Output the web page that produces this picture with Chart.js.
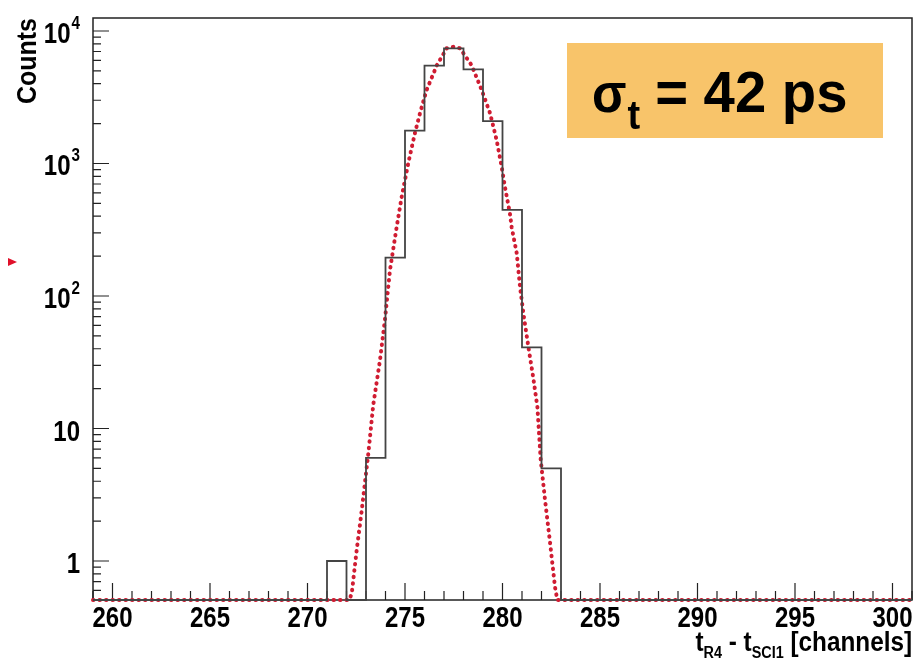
<!DOCTYPE html>
<html>
<head>
<meta charset="utf-8">
<script src="https://cdn.jsdelivr.net/npm/chart.js@4.4.0/dist/chart.umd.min.js"></script>
<style>
  body { margin: 0; background: #fff; }
  #wrap { width: 919px; height: 670px; }
</style>
</head>
<body>
<div id="wrap"><canvas id="hist" width="919" height="670"></canvas></div>
<script>
// histogram: lower bin edge (channels) and counts, one channel per bin
const binLow = [259, 260, 261, 262, 263, 264, 265, 266, 267, 268, 269, 270, 271, 272,
                273, 274, 275, 276, 277, 278, 279, 280, 281, 282, 283, 284, 285, 286,
                287, 288, 289, 290, 291, 292, 293, 294, 295, 296, 297, 298, 299, 300];
const counts = [0, 0, 0, 0, 0, 0, 0, 0, 0, 0, 0, 0, 1, 0,
                6, 195, 1770, 5470, 7400, 5140, 2090, 446, 41, 5, 0, 0, 0, 0,
                0, 0, 0, 0, 0, 0, 0, 0, 0, 0, 0, 0, 0, 0];
const binWidth = 1;

// gaussian fit curve (0 = below the axis floor)
const fitX = [259, 272.14, 272.27, 272.52, 272.78, 273.12, 273.37, 273.72, 273.97, 274.23,
              274.57, 274.83, 275.17, 275.51, 275.77, 276.11, 276.63, 277.14, 277.5, 277.82,
              278.42, 278.93, 279.36, 279.7, 279.96, 280.13, 280.38, 280.47, 280.73, 280.9,
              281.07, 281.33, 281.58, 281.79, 281.96, 282.18, 282.44, 282.69, 282.81, 301];
const fitY = [0, 0, 0.57, 1.2, 2.4, 6.5, 15, 33, 66, 157,
              330, 560, 1010, 1700, 2400, 3590, 5500, 7400, 7600, 7400,
              5500, 3590, 2400, 1500, 940, 660, 420, 330, 210, 117,
              74, 41, 24, 14.5, 5.8, 2.9, 1.37, 0.64, 0, 0];

// axes
const xMin = 259, xMax = 301;
const yMin = 0.508, yMax = 12530;
const xTickValues = [260, 265, 270, 275, 280, 285, 290, 295, 300];
const xTickLabels = ['260', '265', '270', '275', '280', '285', '290', '295', '300'];
const yTickValues = [1, 10, 100, 1000, 10000];
const yTickLabels = [['1', ''], ['10', ''], ['10', '2'], ['10', '3'], ['10', '4']];

const FONT = '"Liberation Sans", Arial, Helvetica, sans-serif';
const SQ = 0.8; // the original figure is narrow-looking, squeeze the axis text

const histPoints = [];
binLow.forEach((lo, i) => {
    const v = counts[i] > 0 ? counts[i] : yMin;
    histPoints.push({ x: lo, y: v });
    histPoints.push({ x: lo + binWidth, y: v });
});
const fitPoints = fitX.map((x, i) => ({ x: x, y: fitY[i] > 0 ? fitY[i] : yMin }));

// draws text squeezed horizontally, x is the left edge
function squeezed(ctx, text, x, y, size, sq) {
    ctx.save();
    ctx.font = 'bold ' + size + 'px ' + FONT;
    ctx.translate(x, y);
    ctx.scale(sq, 1);
    ctx.textAlign = 'left';
    ctx.fillText(text, 0, 0);
    ctx.restore();
}
function squeezedWidth(ctx, text, size, sq) {
    ctx.font = 'bold ' + size + 'px ' + FONT;
    return ctx.measureText(text).width * sq;
}

// ROOT-like frame, inward ticks, labels and the sigma box
const rootDecor = {
    id: 'rootDecor',
    beforeDatasetsDraw(chart) {
        const { ctx, chartArea: a, scales: { x, y } } = chart;
        ctx.save();

        // frame
        ctx.strokeStyle = '#222';
        ctx.lineWidth = 1.5;
        ctx.strokeRect(a.left, a.top, a.right - a.left, a.bottom - a.top);

        // x ticks, every channel, long ones every 5
        ctx.lineWidth = 1.2;
        ctx.beginPath();
        for (let v = xMin; v <= xMax; v++) {
            const px = x.getPixelForValue(v);
            const len = v % 5 === 0 ? 17 : 9;
            ctx.moveTo(px, a.bottom);
            ctx.lineTo(px, a.bottom - len);
        }
        // y ticks on the log axis
        for (let e = -1; e <= 4; e++) {
            for (let m = 1; m <= 9; m++) {
                const v = m * Math.pow(10, e);
                if (v < yMin || v > yMax) continue;
                const py = y.getPixelForValue(v);
                const len = m === 1 ? 16 : 8;
                ctx.moveTo(a.left, py);
                ctx.lineTo(a.left + len, py);
            }
        }
        ctx.stroke();

        ctx.fillStyle = '#000';
        ctx.textBaseline = 'alphabetic';

        // x tick labels
        xTickValues.forEach((v, i) => {
            const w = squeezedWidth(ctx, xTickLabels[i], 30, SQ);
            squeezed(ctx, xTickLabels[i], x.getPixelForValue(v) - w / 2, a.bottom + 27, 30, SQ);
        });

        // y tick labels with superscript exponent
        yTickValues.forEach((v, i) => {
            const [base, exp] = yTickLabels[i];
            const py = y.getPixelForValue(v);
            const wb = squeezedWidth(ctx, base, 30, SQ);
            const we = exp ? squeezedWidth(ctx, exp, 19, SQ) + 1 : 0;
            const x0 = 80 - wb - we;
            squeezed(ctx, base, x0, py + 12, 30, SQ);
            if (exp) squeezed(ctx, exp, x0 + wb + 1, py - 2, 19, SQ);
        });

        // y title
        ctx.save();
        ctx.translate(28, a.top);
        ctx.rotate(-Math.PI / 2);
        ctx.scale(1, 1.1);
        ctx.font = 'bold 25px ' + FONT;
        ctx.textAlign = 'right';
        ctx.textBaseline = 'middle';
        ctx.fillText('Counts', 0, 0);
        ctx.restore();

        // x title: t_R4 - t_SCI1 [channels]
        const parts = [
            ['t', 27, 0], ['R4', 16, 7], [' - t', 27, 0], ['SCI1', 16, 7], [' [channels]', 27, 0]
        ];
        const tq = 0.9;
        let total = 0;
        parts.forEach(p => { total += squeezedWidth(ctx, p[0], p[1], tq); });
        let cx = a.right - total;
        parts.forEach(p => {
            squeezed(ctx, p[0], cx, 651 + p[2], p[1], tq);
            cx += squeezedWidth(ctx, p[0], p[1], tq);
        });

        // sigma box
        ctx.fillStyle = '#f8c46a';
        ctx.fillRect(567, 43, 316, 95);
        ctx.fillStyle = '#000';
        let sx = 592;
        squeezed(ctx, 'σ', sx, 112, 56, 0.9);
        sx += squeezedWidth(ctx, 'σ', 56, 0.9) + 1;
        squeezed(ctx, 't', sx, 129, 40, 0.95);
        sx += squeezedWidth(ctx, 't', 40, 0.95) + 15;
        squeezed(ctx, '= 42 ps', sx, 112, 58, 0.97);

        // small red marker on the left margin
        ctx.fillStyle = '#e0102a';
        ctx.beginPath();
        ctx.moveTo(8, 258);
        ctx.lineTo(17, 262);
        ctx.lineTo(8, 266);
        ctx.closePath();
        ctx.fill();

        ctx.restore();
    }
};

new Chart(document.getElementById('hist').getContext('2d'), {
    type: 'line',
    data: {
        datasets: [{
            label: 'counts',
            data: histPoints,
            borderColor: '#444',
            borderWidth: 1.8,
            pointRadius: 0,
            tension: 0,
            fill: false,
            clip: 3
        }, {
            label: 'fit',
            data: fitPoints,
            borderColor: 'rgb(208, 28, 50)',
            borderWidth: 4,
            borderDash: [0.5, 6],
            borderCapStyle: 'round',
            pointRadius: 0,
            tension: 0,
            fill: false,
            clip: 4
        }]
    },
    options: {
        responsive: false,
        animation: false,
        layout: { padding: { left: 93, top: 18, right: 7, bottom: 70 } },
        plugins: { legend: { display: false }, tooltip: { enabled: false } },
        scales: {
            x: { type: 'linear', min: xMin, max: xMax, display: false },
            y: { type: 'logarithmic', min: yMin, max: yMax, display: false }
        }
    },
    plugins: [rootDecor]
});
</script>
</body>
</html>
